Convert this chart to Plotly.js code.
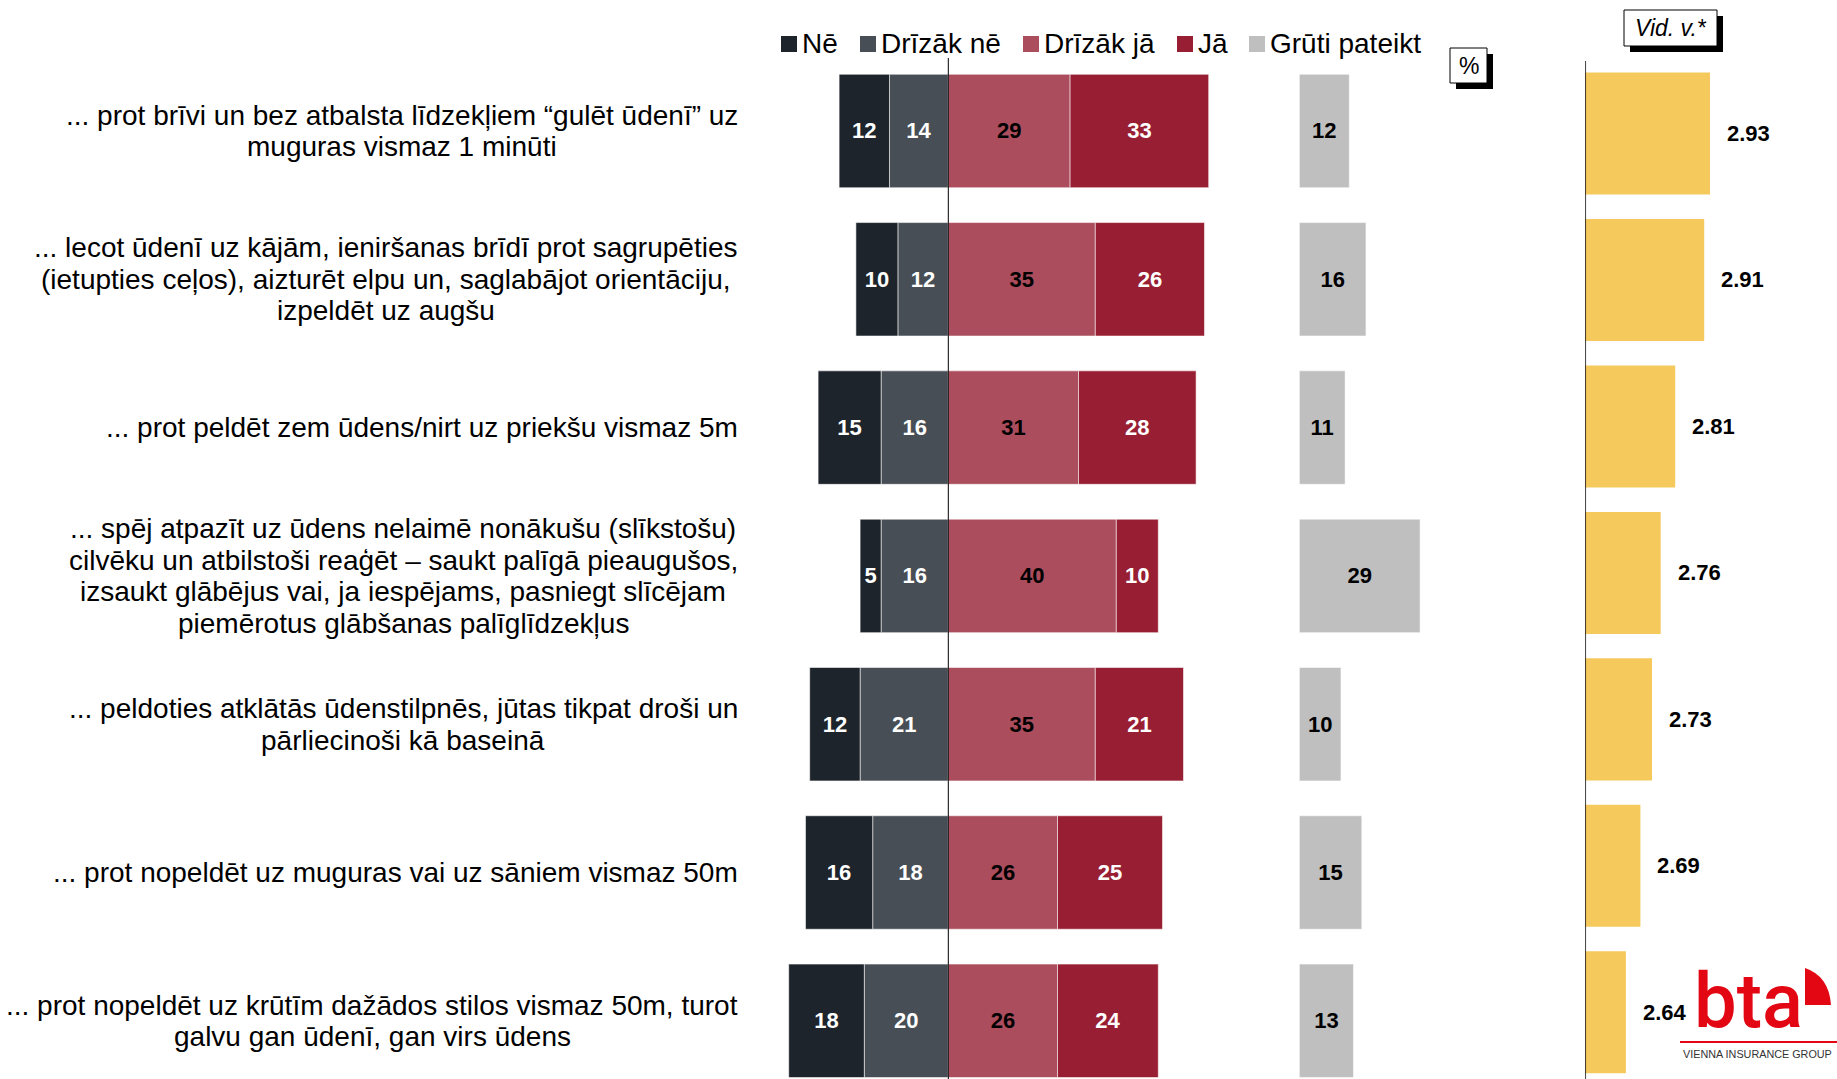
<!DOCTYPE html>
<html>
<head>
<meta charset="utf-8">
<script src="https://cdn.plot.ly/plotly-3.0.1.min.js"></script>
<style>html,body{margin:0;padding:0;background:#fff;}#chart{width:1837px;height:1079px;}</style>
</head>
<body>
<div id="chart"></div>
<script>
// ---------------- data ----------------
const labelLines = [
  ["... prot brīvi un bez atbalsta līdzekļiem “gulēt ūdenī” uz", "muguras vismaz 1 minūti"],
  ["... lecot ūdenī uz kājām, ieniršanas brīdī prot sagrupēties", "(ietupties ceļos), aizturēt elpu un, saglabājot orientāciju,", "izpeldēt uz augšu"],
  ["... prot peldēt zem ūdens/nirt uz priekšu vismaz 5m"],
  ["... spēj atpazīt uz ūdens nelaimē nonākušu (slīkstošu)", "cilvēku un atbilstoši reaģēt – saukt palīgā pieaugušos,", "izsaukt glābējus vai, ja iespējams, pasniegt slīcējam", "piemērotus glābšanas palīglīdzekļus"],
  ["... peldoties atklātās ūdenstilpnēs, jūtas tikpat droši un", "pārliecinoši kā baseinā"],
  ["... prot nopeldēt uz muguras vai uz sāniem vismaz 50m"],
  ["... prot nopeldēt uz krūtīm dažādos stilos vismaz 50m, turot", "galvu gan ūdenī, gan virs ūdens"]
];
const seriesNames = ["Nē", "Drīzāk nē", "Drīzāk jā", "Jā", "Grūti pateikt"];
const ne        = [12, 10, 15, 5, 12, 16, 18];
const drizakNe  = [14, 12, 16, 16, 21, 18, 20];
const drizakJa  = [29, 35, 31, 40, 35, 26, 26];
const ja        = [33, 26, 28, 10, 21, 25, 24];
const gruti     = [12, 16, 11, 29, 10, 15, 13];
const avgValues = [2.93, 2.91, 2.81, 2.76, 2.73, 2.69, 2.64];
const pctLabel = "%";
const avgLabel = "Vid. v.*";

// ---------------- styles ----------------
const W = 1837, H = 1079;
const colors = ["#1e242b", "#474e55", "#ab4d5c", "#981f33", "#bfbfbf"];
const textColors = ["#ffffff", "#ffffff", "#000000", "#ffffff", "#000000"];
const avgColor = "#f6c95c";
const FONT = "'Liberation Sans', Arial, sans-serif";
const X = p => p / W;
const Y = p => 1 - p / H;
const rows = labelLines.map((_, i) => i);
const barLine = {color: "rgba(255,255,255,0.55)", width: 1};
const valFont = c => ({family: FONT, size: 22, color: c, weight: "bold"});

function barTrace(vals, idx, sign, xa, ya) {
  return {
    type: "bar", orientation: "h", name: seriesNames[idx],
    y: rows, x: vals.map(v => sign * v),
    text: vals.map(v => String(v)), textposition: "inside",
    insidetextanchor: "middle", constraintext: "none", textangle: 0,
    textfont: valFont(textColors[idx]),
    marker: {color: colors[idx], line: barLine},
    width: 0.765, xaxis: xa, yaxis: ya, hoverinfo: "skip", showlegend: false
  };
}

const traces = [
  barTrace(drizakNe, 1, -1, "x", "y"),
  barTrace(ne, 0, -1, "x", "y"),
  barTrace(drizakJa, 2, 1, "x", "y"),
  barTrace(ja, 3, 1, "x", "y"),
  barTrace(gruti, 4, 1, "x2", "y"),
  {
    type: "bar", orientation: "h", y: rows, x: avgValues,
    marker: {color: avgColor}, width: 0.833,
    xaxis: "x3", yaxis: "y2", hoverinfo: "skip", showlegend: false
  }
];

// ---------------- annotations ----------------
const annotations = [];
const canvas = document.createElement("canvas");
const ctx = canvas.getContext("2d");
const LABEL_SIZE = 28, LINE_H = 31.6;
ctx.font = LABEL_SIZE + "px 'Liberation Sans'";
labelLines.forEach((lines, i) => {
  const maxW = Math.max(...lines.map(l => ctx.measureText(l).width));
  const cx = 738 - maxW / 2;
  const n = lines.length;
  lines.forEach((line, j) => {
    annotations.push({
      xref: "paper", x: X(cx), xanchor: "center",
      yref: "y", y: i, yanchor: "middle", yshift: -(j - (n - 1) / 2) * LINE_H,
      text: line, showarrow: false,
      font: {family: FONT, size: LABEL_SIZE, color: "#000"}
    });
  });
});

avgValues.forEach((v, i) => {
  annotations.push({
    xref: "x3", x: v, xanchor: "left", xshift: 15,
    yref: "y2", y: i, yanchor: "middle",
    text: v.toFixed(2), showarrow: false, font: valFont("#000")
  });
});

// manual legend
const legendX = [781, 860, 1023, 1177, 1249];
const shapes = [];
seriesNames.forEach((name, k) => {
  shapes.push({type: "rect", xref: "paper", yref: "paper",
    x0: X(legendX[k]), x1: X(legendX[k] + 16), y0: Y(36), y1: Y(52),
    fillcolor: colors[k], line: {width: 0}});
  annotations.push({xref: "paper", yref: "paper", x: X(legendX[k] + 19), y: Y(43.5),
    xanchor: "left", yanchor: "middle", text: name, showarrow: false,
    font: {family: FONT, size: 28, color: "#000"}});
});

// center line and average axis line
shapes.push({type: "line", xref: "x", yref: "paper", x0: 0, x1: 0, y0: Y(58), y1: 0,
  line: {color: "#000", width: 1}});
shapes.push({type: "line", xref: "x3", yref: "paper", x0: 2.5, x1: 2.5, y0: Y(61), y1: 0,
  line: {color: "#000", width: 1.5}});

// boxes with shadow
function box(x0, y0, x1, y1, text, italic) {
  shapes.push({type: "rect", xref: "paper", yref: "paper",
    x0: X(x0 + 6), x1: X(x1 + 6), y0: Y(y1 + 6), y1: Y(y0 + 6),
    fillcolor: "#000", line: {width: 0}});
  shapes.push({type: "rect", xref: "paper", yref: "paper",
    x0: X(x0), x1: X(x1), y0: Y(y1), y1: Y(y0),
    fillcolor: "#fff", line: {color: "#000", width: 1}});
  annotations.push({xref: "paper", yref: "paper", x: X((x0 + x1) / 2), y: Y((y0 + y1) / 2),
    xanchor: "center", yanchor: "middle", text: italic ? "<i>" + text + "</i>" : text,
    showarrow: false, font: {family: FONT, size: 23, color: "#000"}});
}
box(1450, 48, 1487, 83, pctLabel, false);
box(1624, 10, 1717, 46, avgLabel, true);

// logo
annotations.push({xref: "paper", yref: "paper", x: X(1692), y: Y(1001), xanchor: "left", yanchor: "middle",
  text: "bta", showarrow: false, font: {family: "Roboto, sans-serif", size: 76, color: "#e30613", weight: 500}});
shapes.push({type: "path", xref: "paper", yref: "paper",
  path: `M ${X(1805)} ${Y(968)} Q ${X(1829)} ${Y(976)} ${X(1831)} ${Y(1005)} L ${X(1805)} ${Y(1005)} Z`,
  fillcolor: "#e30613", line: {width: 0}});
shapes.push({type: "line", xref: "paper", yref: "paper", x0: X(1680), x1: X(1837), y0: Y(1042), y1: Y(1042),
  line: {color: "#e30613", width: 2}});
annotations.push({xref: "paper", yref: "paper", x: X(1681), y: Y(1054), xanchor: "left", yanchor: "middle",
  text: "VIENNA INSURANCE GROUP", showarrow: false, font: {family: FONT, size: 10.8, color: "#333"}});

const layout = {
  width: W, height: H, margin: {l: 0, r: 0, t: 0, b: 0, pad: 0},
  paper_bgcolor: "#fff", plot_bgcolor: "rgba(0,0,0,0)",
  barmode: "relative", showlegend: false,
  font: {family: FONT},
  xaxis: {domain: [X(780.3), X(1229.7)], range: [-40, 67], anchor: "y", visible: false, fixedrange: true},
  xaxis2: {domain: [X(1299.3), X(1424.3)], range: [0, 30], anchor: "y", visible: false, fixedrange: true},
  xaxis3: {domain: [X(1585.3), X(1730.3)], range: [2.5, 3.0], anchor: "y2", visible: false, fixedrange: true},
  yaxis: {domain: [0, 1], range: [6.3924, -0.8833], anchor: "x", visible: false, fixedrange: true},
  yaxis2: {domain: [0, 1], range: [6.4553, -0.9115], anchor: "x3", visible: false, fixedrange: true},
  shapes: shapes, annotations: annotations
};

Plotly.newPlot("chart", traces, layout, {displayModeBar: false, staticPlot: true});
</script>
</body>
</html>
